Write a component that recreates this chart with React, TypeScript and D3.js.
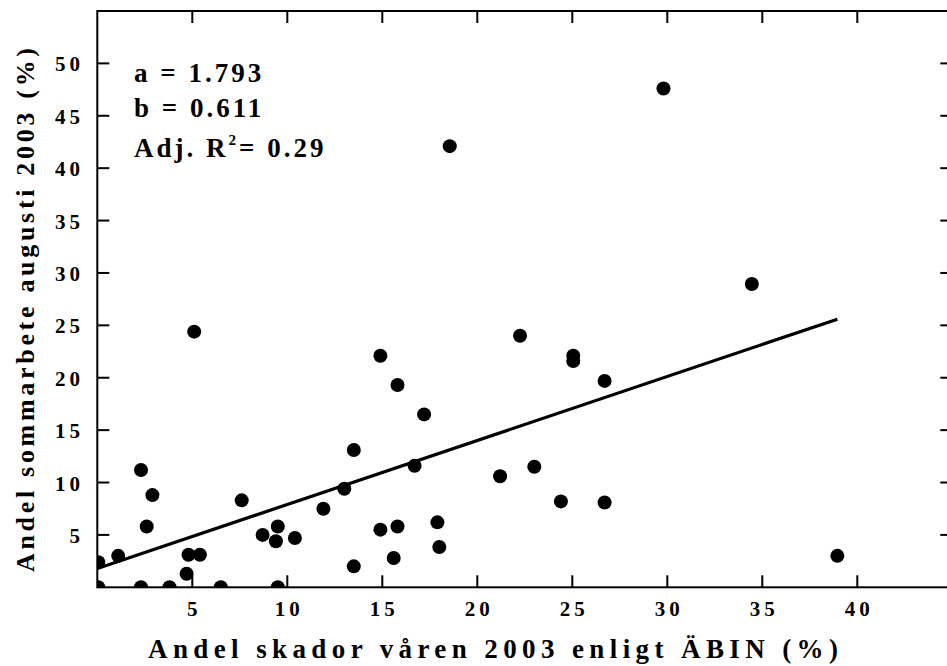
import React from "react";
import * as d3 from "d3";

const xValues = [0.05, 0.05, 1.1, 2.3, 2.3, 2.6, 2.9, 3.8, 4.7, 4.8, 5.4, 5.1, 6.5, 7.6, 8.7, 9.5, 9.4, 9.5, 10.4, 11.9, 13.0, 13.5, 13.5, 14.9, 14.9, 15.8, 15.8, 15.6, 16.7, 17.2, 17.9, 18.0, 18.55, 21.2, 22.25, 23.0, 24.4, 25.05, 25.05, 26.7, 26.7, 29.8, 34.45, 38.95];
const yValues = [2.4, 0, 3.0, 11.2, 0, 5.8, 8.8, 0, 1.3, 3.1, 3.1, 24.4, 0, 8.3, 5.0, 5.8, 4.4, 0, 4.7, 7.5, 9.4, 13.1, 2.0, 22.1, 5.5, 19.3, 5.8, 2.8, 11.6, 16.5, 6.2, 3.85, 42.1, 10.6, 24.0, 11.5, 8.2, 22.1, 21.6, 19.7, 8.1, 47.6, 28.95, 3.0];

const xTicks = [5, 10, 15, 20, 25, 30, 35, 40];
const yTicks = [5, 10, 15, 20, 25, 30, 35, 40, 45, 50];

const coefA = 1.793;
const coefB = 0.611;
const annotA = "a = 1.793";
const annotB = "b = 0.611";
const annotR = "Adj. R";
const annotRSup = "2";
const annotRVal = "= 0.29";
const xTitle = "Andel skador våren 2003 enligt ÄBIN (%)";
const yTitle = "Andel sommarbete augusti 2003 (%)";

const FONT = "'Liberation Serif', 'Times New Roman', serif";

export default function App() {
  const x = d3.scaleLinear().domain([0, 45]).range([97.3, 952.3]);
  const y = d3.scaleLinear().domain([0, 55]).range([587.3, 11]);
  const x0 = x(0), x1 = x(45), y0 = y(0), y1 = y(55);
  const tickLen = 12;
  const lineXMax = d3.max(xValues) as number;
  const line = d3.line<number>().x((d) => x(d)).y((d) => y(coefA + coefB * d));
  const ls = 4;
  const tf = { fontFamily: FONT, fontWeight: "bold" as const };

  return (
    <svg width={947} height={666} style={{ position: "absolute", left: 0, top: 0, background: "#fff" }}>
      <defs>
        <clipPath id="plotClip">
          <rect x={x0} y={y1} width={x1 - x0} height={y0 - y1} />
        </clipPath>
      </defs>
      <rect x={0} y={0} width={947} height={666} fill="#fff" />

      <g clipPath="url(#plotClip)">
        {xValues.map((xv, i) => (
          <circle key={i} cx={x(xv)} cy={y(yValues[i])} r={7} fill="#000" />
        ))}
        <path d={line([0, lineXMax]) as string} stroke="#000" strokeWidth={3.2} fill="none" />
      </g>

      <rect x={x0} y={y1} width={x1 - x0} height={y0 - y1} fill="none" stroke="#000" strokeWidth={2} />

      {xTicks.map((t) => (
        <g key={"xt" + t}>
          <line x1={x(t)} x2={x(t)} y1={y0} y2={y0 - tickLen} stroke="#000" strokeWidth={2} />
          <line x1={x(t)} x2={x(t)} y1={y1} y2={y1 + tickLen} stroke="#000" strokeWidth={2} />
        </g>
      ))}
      {yTicks.map((t) => (
        <g key={"yt" + t}>
          <line x1={x0} x2={x0 + tickLen} y1={y(t)} y2={y(t)} stroke="#000" strokeWidth={2} />
          <line x1={x1} x2={x1 - tickLen} y1={y(t)} y2={y(t)} stroke="#000" strokeWidth={2} />
        </g>
      ))}

      {xTicks.map((t) => (
        <text key={"xl" + t} x={x(t) + ls / 2} y={616} textAnchor="middle" fontSize={21} letterSpacing={ls} style={tf}>
          {t}
        </text>
      ))}
      {yTicks.map((t) => (
        <text key={"yl" + t} x={80 + ls} y={y(t) + 8} textAnchor="end" fontSize={21} letterSpacing={ls} style={tf}>
          {t}
        </text>
      ))}

      <g fontSize={27} letterSpacing={3} style={tf}>
        <text x={134} y={82} style={tf}>{annotA}</text>
        <text x={134} y={117} style={tf}>{annotB}</text>
        <text x={134} y={157} style={tf}>
          {annotR}
          <tspan fontSize={15} dy={-12}>{annotRSup}</tspan>
          <tspan dy={12}>{annotRVal}</tspan>
        </text>
      </g>

      <text x={148} y={658} fontSize={27} textLength={690} lengthAdjust="spacing" style={tf}>
        {xTitle}
      </text>
      <text transform="translate(34,572) rotate(-90)" x={0} y={0} fontSize={26} textLength={524} lengthAdjust="spacing" style={tf}>
        {yTitle}
      </text>
    </svg>
  );
}
